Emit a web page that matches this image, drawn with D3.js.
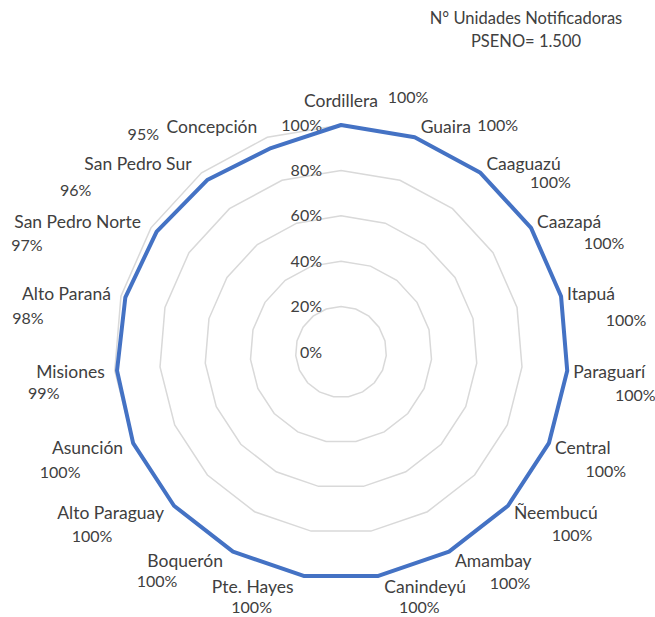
<!DOCTYPE html>
<html>
<head>
<meta charset="utf-8">
<script src="https://cdn.jsdelivr.net/npm/d3@7"></script>
<style>
  body { margin: 0; background: #fff; }
  text { font-family: Lato, "Open Sans", sans-serif; fill: #404040; }
</style>
</head>
<body>
<svg id="chart"></svg>
<script>
const departments = ["Cordillera", "Guaira", "Caaguazú", "Caazapá", "Itapuá", "Paraguarí",
    "Central", "Ñeembucú", "Amambay", "Canindeyú", "Pte. Hayes", "Boquerón", "Alto Paraguay",
    "Asunción", "Misiones", "Alto Paraná", "San Pedro Norte", "San Pedro Sur", "Concepción"]
const coverage = [1, 1, 1, 1, 1, 1, 1, 1, 1, 1, 1, 1, 1, 1, 0.99, 0.98, 0.97, 0.96, 0.95]
const gridTicks = [0, 0.2, 0.4, 0.6, 0.8, 1]
const titleLines = ["N° Unidades Notificadoras", "PSENO= 1.500"]

// layout
const layout = { width: 655, height: 617, cx: 341, cy: 352, radius: 227 }
// data labels were dragged by hand in the original: offset from each spoke's 100% corner
const valueNudge = [[67, -28], [83, -12], [70, 10], [73, 16], [65, 24], [68, 25], [57, 28],
    [64, 30], [61, 32], [41, 31], [-52, 31], [-76, 30], [-82, 31], [-73, 29], [-71, 23],
    [-93, 22], [-124, 18], [-126, 18], [-124, -3]]

const svg = d3.select("#chart")
    .attr("width", layout.width)
    .attr("height", layout.height)

const n = departments.length
const angle = d3.scaleLinear().domain([0, n]).range([0, 2 * Math.PI])
const rScale = d3.scaleLinear().domain([0, 1]).range([0, layout.radius])
const fmt = d3.format(".0%")

// corner of the outer ring on spoke i
const corner = i => [rScale(1) * Math.sin(angle(i)), -rScale(1) * Math.cos(angle(i))]

const g = svg.append("g")
    .attr("transform", `translate(${layout.cx}, ${layout.cy})`)

const ring = d3.lineRadial()
    .angle((d, i) => angle(i))
    .radius(d => rScale(d))
    .curve(d3.curveLinearClosed)

// grid rings
g.selectAll("path.grid")
    .data(gridTicks.filter(t => t > 0))
    .join("path")
    .attr("class", "grid")
    .attr("d", t => ring(departments.map(() => t)))
    .attr("fill", "none")
    .attr("stroke", "#d9d9d9")
    .attr("stroke-width", 1.5)

// axis labels
g.selectAll("text.tick")
    .data(gridTicks)
    .join("text")
    .attr("class", "tick")
    .attr("x", -19)
    .attr("y", t => -rScale(t))
    .attr("dy", "0.35em")
    .attr("text-anchor", "end")
    .attr("font-size", "16px")
    .text(fmt)

// series
g.append("path")
    .attr("d", ring(coverage))
    .attr("fill", "none")
    .attr("stroke", "#4472c4")
    .attr("stroke-width", 4)
    .attr("stroke-linejoin", "round")

// category labels sit just outside the 100% ring
const padRight = 6, padLeft = 10, padY = 2, lineH = 18
g.selectAll("text.cat")
    .data(departments)
    .join("text")
    .attr("class", "cat")
    .attr("font-size", "17.5px")
    .attr("dy", "0.35em")
    .each(function (d, i) {
        const s = Math.sin(angle(i)), c = Math.cos(angle(i))
        const [vx, vy] = corner(i)
        let x = vx, anchor = "middle"
        if (s > 0.01) { x = vx + padRight; anchor = "start" }
        else if (s < -0.01) { x = vx - padLeft; anchor = "end" }
        // top label gets lifted clear of the axis labels
        const lift = Math.abs(s) < 0.01 ? 13 : 0
        d3.select(this)
            .attr("x", x)
            .attr("y", vy - c * (lineH / 2 + padY) - lift)
            .attr("text-anchor", anchor)
    })
    .text(d => d)

// value labels
g.selectAll("text.val")
    .data(coverage)
    .join("text")
    .attr("class", "val")
    .attr("font-size", "16px")
    .attr("text-anchor", "middle")
    .attr("dy", "0.35em")
    .attr("x", (d, i) => corner(i)[0] + valueNudge[i][0])
    .attr("y", (d, i) => corner(i)[1] + valueNudge[i][1])
    .text(fmt)

// title
svg.selectAll("text.title")
    .data(titleLines)
    .join("text")
    .attr("class", "title")
    .attr("x", 526)
    .attr("y", (d, i) => 24 + i * 23)
    .attr("text-anchor", "middle")
    .attr("font-size", "16.5px")
    .text(d => d)
</script>
</body>
</html>
